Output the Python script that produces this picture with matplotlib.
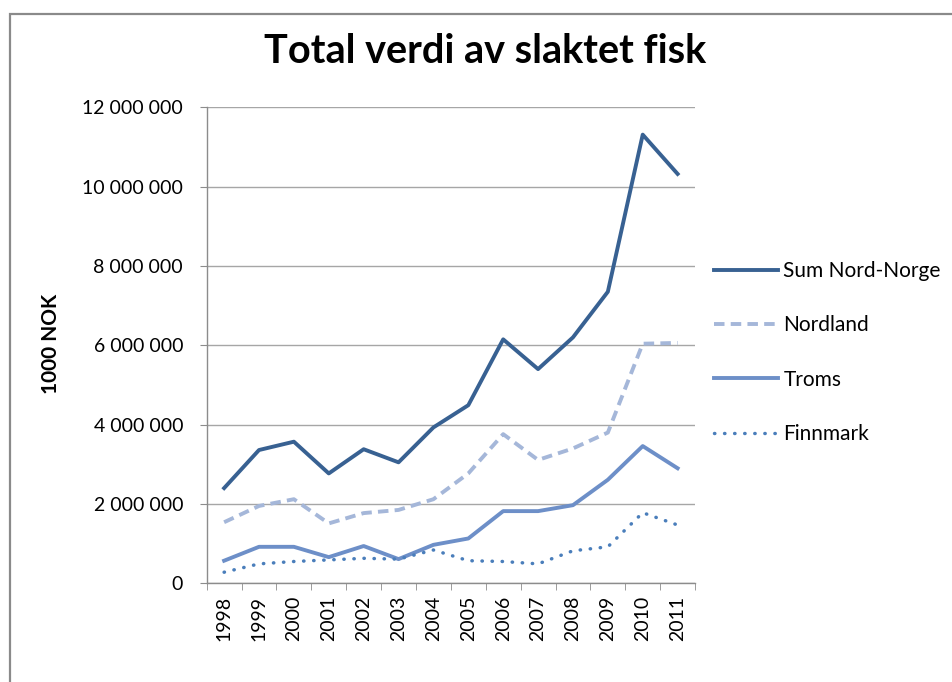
import matplotlib
matplotlib.use("Agg")
import matplotlib.pyplot as plt
import matplotlib.patches as mpatches
from matplotlib.ticker import FuncFormatter

# Data (1000 NOK)
years = ["1998", "1999", "2000", "2001", "2002", "2003", "2004",
         "2005", "2006", "2007", "2008", "2009", "2010", "2011"]
sum_nord_norge = [2400000, 3360000, 3570000, 2770000, 3380000, 3050000, 3930000,
                  4490000, 6150000, 5400000, 6200000, 7350000, 11310000, 10320000]
nordland = [1540000, 1950000, 2120000, 1510000, 1770000, 1850000, 2120000,
            2770000, 3760000, 3110000, 3400000, 3800000, 6040000, 6060000]
troms = [570000, 920000, 920000, 660000, 940000, 610000, 970000,
         1130000, 1820000, 1820000, 1970000, 2610000, 3460000, 2900000]
finnmark = [280000, 490000, 550000, 590000, 630000, 610000, 840000,
            570000, 550000, 490000, 820000, 920000, 1780000, 1470000]

plt.rcParams["font.family"] = ["Lato", "DejaVu Sans"]

fig = plt.figure(figsize=(9.52, 6.82), dpi=100)
fig.patch.set_facecolor("white")

# chart frame (runs off the right and bottom edge)
frame = mpatches.Rectangle((10 / 952, -0.05), 1.0, 1 - 14 / 682 + 0.05,
                           transform=fig.transFigure, fill=False,
                           edgecolor="#8a8a8a", linewidth=1.6)
fig.patches.append(frame)

ax = fig.add_axes([0.2171, 0.1447, 0.513, 0.698])
x = list(range(len(years)))

ax.plot(x, sum_nord_norge, color="#386192", lw=2.8, label="Sum Nord-Norge")
ax.plot(x, nordland, color="#a5b7d9", lw=2.8, dashes=(2.7, 1.6), label="Nordland")
ax.plot(x, troms, color="#6d8fc8", lw=2.8, label="Troms")
ax.plot(x, finnmark, color="#4a7ebb", lw=2.5, linestyle=(0, (0.1, 2.8)),
        dash_capstyle="round", label="Finnmark")

ax.set_xlim(-0.5, len(years) - 0.5)
ax.set_ylim(0, 12000000)
ax.set_yticks(range(0, 12000001, 2000000))
ax.yaxis.set_major_formatter(FuncFormatter(lambda v, p: f"{int(v):,}".replace(",", " ")))
ax.grid(axis="y", color="#a6a6a6", lw=1.0)
ax.set_axisbelow(True)

ax.set_xticks(x)
ax.set_xticklabels(years, rotation=90)
ax.set_xticks([i - 0.5 for i in range(len(years) + 1)], minor=True)
ax.tick_params(axis="x", which="major", length=0, pad=9, labelsize=14,
               labelcolor="#000000")
ax.tick_params(axis="x", which="minor", length=5, color="#8c8c8c")
ax.tick_params(axis="y", length=5, color="#8c8c8c", labelsize=14, pad=12)

for s in ["top", "right"]:
    ax.spines[s].set_visible(False)
for s in ["left", "bottom"]:
    ax.spines[s].set_color("#8c8c8c")
    ax.spines[s].set_linewidth(1.0)

ax.set_ylabel("1000 NOK", fontsize=15, fontweight="bold")
ax.yaxis.set_label_coords(-0.298, 0.503)

fig.text(0.5095, 0.9238, "Total verdi av slaktet fisk", ha="center", va="center",
         fontsize=28.5, fontweight="bold")

ax.legend(loc="center left", bbox_to_anchor=(1.039, 0.485), frameon=False,
          fontsize=15, handlelength=3.07, handletextpad=0.25, labelspacing=1.65,
          borderaxespad=0, borderpad=0)

plt.savefig("out.png", dpi=100, facecolor="white")
plt.close(fig)
